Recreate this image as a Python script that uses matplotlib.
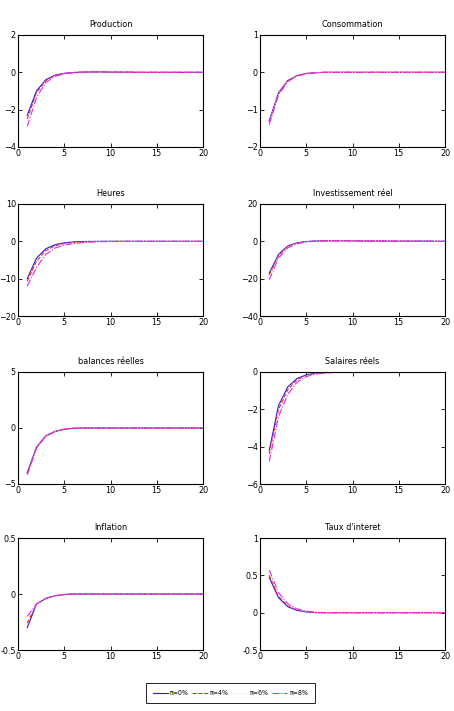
import matplotlib
matplotlib.use("Agg")
import matplotlib.pyplot as plt
from matplotlib import font_manager

# police etroite si disponible
names = set(f.name for f in font_manager.fontManager.ttflist)
narrow = [n for n in ['Liberation Sans Narrow', 'DejaVu Sans Condensed'] if n in names]
plt.rcParams['font.family'] = narrow + ['DejaVu Sans']
plt.rcParams['font.stretch'] = 'condensed'
plt.rcParams['font.size'] = 7

periods = list(range(1, 21))
labels = [u"\u03c0=0%", u"\u03c0=4%", u"\u03c0=6%", u"\u03c0=8%"]
titles = ["Production", "Consommation", "Heures", u"Investissement r\u00e9el",
          u"balances r\u00e9elles", u"Salaires r\u00e9els", "Inflation", "Taux d'interet"]

# reponses impulsionnelles, une liste par scenario d'inflation
production = [
    [-2.3, -1.0, -0.40, -0.15, -0.05, -0.01, 0.01, 0.02, 0.02, 0.01, 0.01, 0.01, 0, 0, 0, 0, 0, 0, 0, 0],
    [-2.5, -1.1, -0.45, -0.17, -0.06, -0.01, 0.01, 0.02, 0.02, 0.01, 0.01, 0.01, 0, 0, 0, 0, 0, 0, 0, 0],
    [-2.7, -1.2, -0.50, -0.20, -0.07, -0.02, 0.01, 0.02, 0.02, 0.02, 0.01, 0.01, 0, 0, 0, 0, 0, 0, 0, 0],
    [-2.9, -1.35, -0.55, -0.22, -0.08, -0.02, 0.01, 0.02, 0.03, 0.02, 0.01, 0.01, 0, 0, 0, 0, 0, 0, 0, 0],
]
consommation = [
    [-1.30, -0.55, -0.22, -0.09, -0.03, -0.01, 0, 0, 0, 0, 0, 0, 0, 0, 0, 0, 0, 0, 0, 0],
    [-1.33, -0.57, -0.23, -0.09, -0.03, -0.01, 0, 0, 0, 0, 0, 0, 0, 0, 0, 0, 0, 0, 0, 0],
    [-1.36, -0.59, -0.24, -0.10, -0.04, -0.01, 0, 0, 0, 0, 0, 0, 0, 0, 0, 0, 0, 0, 0, 0],
    [-1.40, -0.61, -0.25, -0.10, -0.04, -0.01, 0, 0, 0, 0, 0, 0, 0, 0, 0, 0, 0, 0, 0, 0],
]
heures = [
    [-10.0, -4.5, -2.0, -0.9, -0.40, -0.15, -0.05, -0.02, 0, 0, 0, 0, 0, 0, 0, 0, 0, 0, 0, 0],
    [-10.7, -5.3, -2.5, -1.2, -0.60, -0.30, -0.15, -0.07, -0.03, -0.01, 0, 0, 0, 0, 0, 0, 0, 0, 0, 0],
    [-11.3, -6.1, -3.0, -1.5, -0.80, -0.45, -0.25, -0.12, -0.06, -0.03, -0.01, 0, 0, 0, 0, 0, 0, 0, 0, 0],
    [-12.0, -7.0, -3.5, -1.8, -1.00, -0.60, -0.35, -0.18, -0.09, -0.05, -0.02, -0.01, 0, 0, 0, 0, 0, 0, 0, 0],
]
investissement = [
    [-17.0, -7.0, -2.5, -0.8, -0.1, 0.2, 0.3, 0.3, 0.3, 0.3, 0.2, 0.2, 0.2, 0.1, 0.1, 0.1, 0.1, 0.1, 0, 0],
    [-18.0, -7.7, -2.8, -1.0, -0.2, 0.1, 0.3, 0.3, 0.3, 0.3, 0.2, 0.2, 0.2, 0.1, 0.1, 0.1, 0.1, 0.1, 0, 0],
    [-19.0, -8.3, -3.1, -1.1, -0.2, 0.1, 0.2, 0.3, 0.3, 0.3, 0.2, 0.2, 0.2, 0.1, 0.1, 0.1, 0.1, 0.1, 0, 0],
    [-20.5, -9.0, -3.5, -1.3, -0.3, 0.1, 0.2, 0.3, 0.3, 0.3, 0.3, 0.2, 0.2, 0.2, 0.1, 0.1, 0.1, 0.1, 0, 0],
]
balances = [
    [-4.00, -1.70, -0.70, -0.30, -0.10, -0.02, 0, 0, 0, 0, 0, 0, 0, 0, 0, 0, 0, 0, 0, 0],
    [-4.07, -1.73, -0.72, -0.31, -0.11, -0.03, 0, 0, 0, 0, 0, 0, 0, 0, 0, 0, 0, 0, 0, 0],
    [-4.13, -1.77, -0.73, -0.32, -0.11, -0.03, 0, 0, 0, 0, 0, 0, 0, 0, 0, 0, 0, 0, 0, 0],
    [-4.20, -1.80, -0.75, -0.33, -0.12, -0.03, 0, 0, 0, 0, 0, 0, 0, 0, 0, 0, 0, 0, 0, 0],
]
salaires = [
    [-4.2, -1.8, -0.80, -0.35, -0.15, -0.06, -0.03, -0.01, 0, 0, 0, 0, 0, 0, 0, 0, 0, 0, 0, 0],
    [-4.4, -2.0, -0.95, -0.42, -0.18, -0.08, -0.04, -0.02, -0.01, 0, 0, 0, 0, 0, 0, 0, 0, 0, 0, 0],
    [-4.6, -2.2, -1.05, -0.48, -0.21, -0.09, -0.05, -0.02, -0.01, 0, 0, 0, 0, 0, 0, 0, 0, 0, 0, 0],
    [-4.8, -2.4, -1.20, -0.55, -0.25, -0.11, -0.06, -0.03, -0.01, 0, 0, 0, 0, 0, 0, 0, 0, 0, 0, 0],
]
inflation = [
    [-0.30, -0.09, -0.04, -0.015, -0.005, 0, 0, 0, 0, 0, 0, 0, 0, 0, 0, 0, 0, 0, 0, 0],
    [-0.26, -0.09, -0.04, -0.015, -0.005, 0, 0, 0, 0, 0, 0, 0, 0, 0, 0, 0, 0, 0, 0, 0],
    [-0.23, -0.09, -0.04, -0.015, -0.005, 0, 0, 0, 0, 0, 0, 0, 0, 0, 0, 0, 0, 0, 0, 0],
    [-0.20, -0.09, -0.04, -0.015, -0.005, 0, 0, 0, 0, 0, 0, 0, 0, 0, 0, 0, 0, 0, 0, 0],
]
taux = [
    [0.47, 0.20, 0.08, 0.03, 0.010, 0, 0, 0, 0, 0, 0, 0, 0, 0, 0, 0, 0, 0, 0, 0],
    [0.50, 0.22, 0.09, 0.04, 0.013, 0.003, 0, 0, 0, 0, 0, 0, 0, 0, 0, 0, 0, 0, 0, 0],
    [0.53, 0.25, 0.11, 0.045, 0.016, 0.004, 0, 0, 0, 0, 0, 0, 0, 0, 0, 0, 0, 0, 0, 0],
    [0.57, 0.27, 0.12, 0.05, 0.020, 0.005, 0, 0, 0, 0, 0, 0, 0, 0, 0, 0, 0, 0, 0, 0],
]

series = [production, consommation, heures, investissement, balances, salaires, inflation, taux]
ylims = [(-4, 2), (-2, 1), (-20, 10), (-40, 20), (-5, 5), (-6, 0), (-0.5, 0.5), (-0.5, 1)]
yticks = [[-4, -2, 0, 2], [-2, -1, 0, 1], [-20, -10, 0, 10], [-40, -20, 0, 20],
          [-5, 0, 5], [-6, -4, -2, 0], [-0.5, 0, 0.5], [-0.5, 0, 0.5, 1]]
yticklabels = [None, None, None, None, None, None,
               ["-0.5", "0", "0.5"], ["-0.5", "0", "0.5", "1"]]

colors = ['#2222dd', '#ee2222', '#d8ecd8', '#ee22ee']
styles = ['-', '--', ':', '-.']

W, H = 454.0, 711.0
lefts = [18, 260]
width = 185
tops = [35, 204, 372, 538]
height = 112

fig = plt.figure(figsize=(4.54, 7.11), dpi=100)
handles = []
for i in range(8):
    r, c = divmod(i, 2)
    ax = fig.add_axes([lefts[c] / W, 1 - (tops[r] + height) / H, width / W, height / H])
    for k in range(4):
        h, = ax.plot(periods, series[i][k], styles[k], color=colors[k], lw=0.8)
        if i == 0:
            handles.append(h)
    ax.set_xlim(0, 20)
    ax.set_ylim(*ylims[i])
    ax.set_xticks([0, 5, 10, 15, 20])
    ax.set_yticks(yticks[i])
    if yticklabels[i] is not None:
        ax.set_yticklabels(yticklabels[i])
    ax.tick_params(direction='in', top=True, right=True, length=3, width=0.6,
                   labelsize=6.5, pad=1.5)
    for s in ax.spines.values():
        s.set_linewidth(0.8)
    ax.set_title(titles[i], fontsize=6.5, pad=6)

leg = fig.legend(handles, labels, loc='center', ncol=4, bbox_to_anchor=(230.5 / W, 1 - 693 / H),
                 fancybox=False, edgecolor='black', fontsize=5, handlelength=2.2,
                 columnspacing=0.5, handletextpad=0.3, borderpad=1.0, framealpha=1)
leg.get_frame().set_linewidth(0.6)
fig.savefig("out.png", dpi=100)
